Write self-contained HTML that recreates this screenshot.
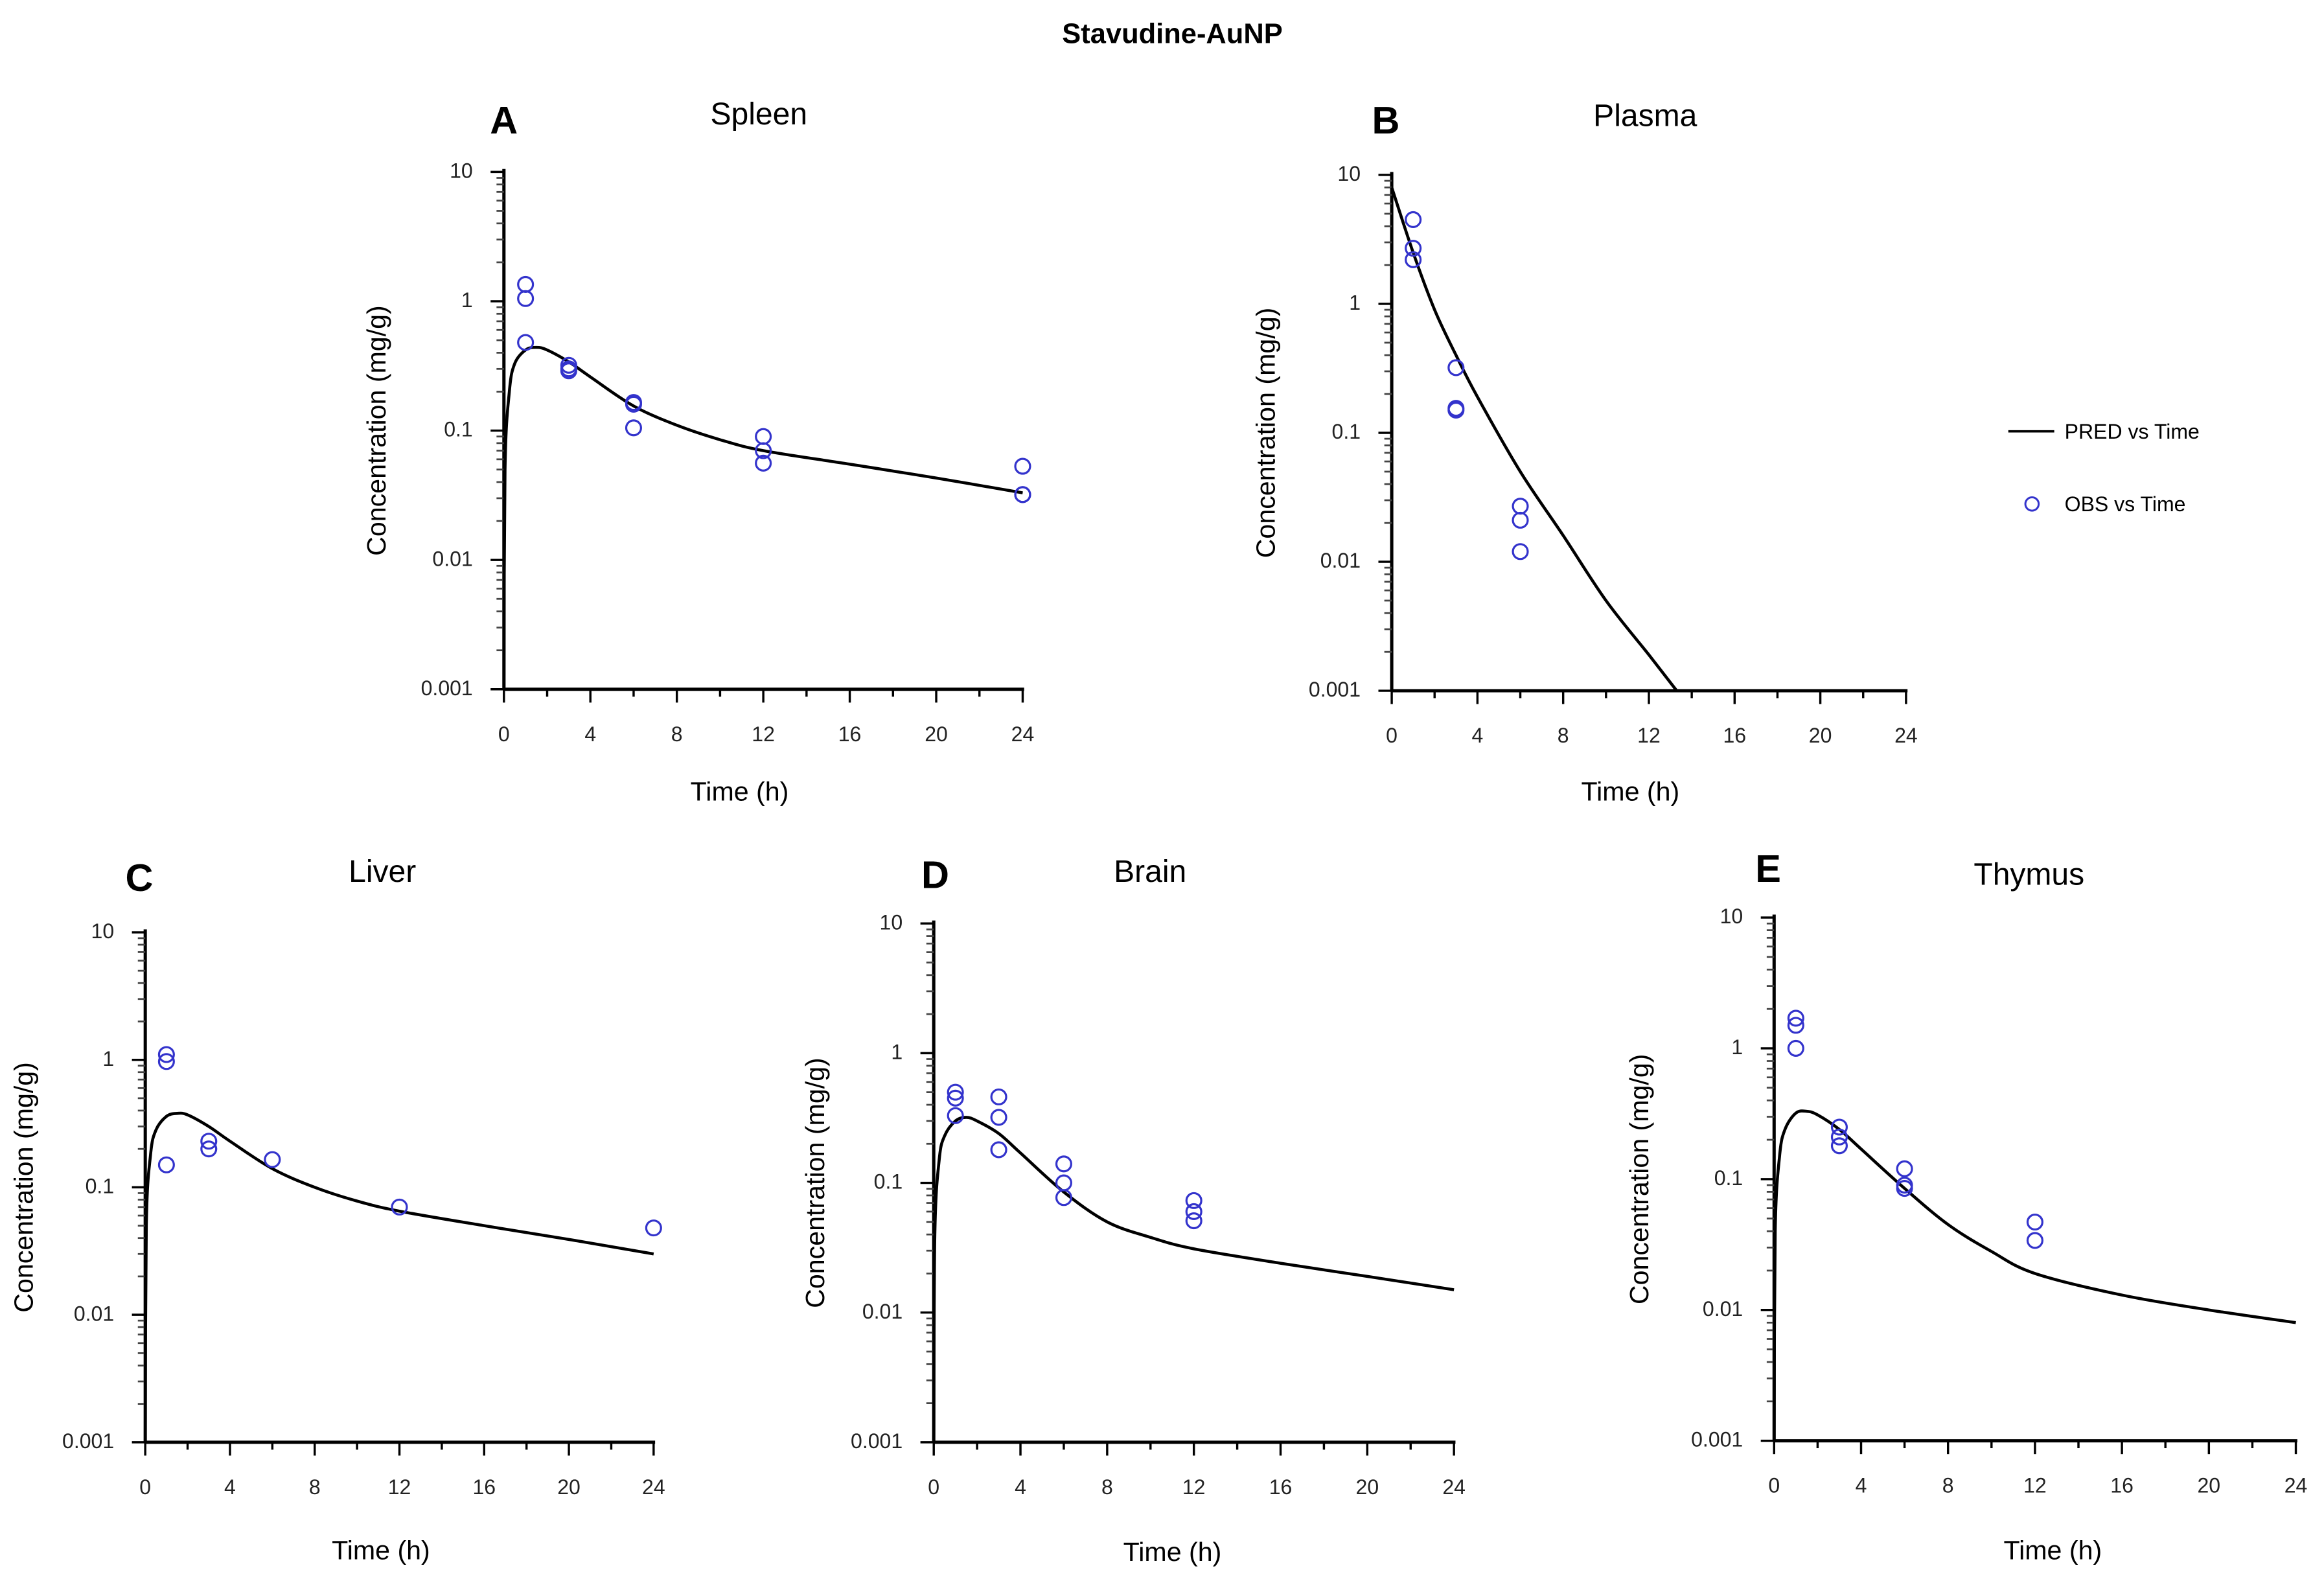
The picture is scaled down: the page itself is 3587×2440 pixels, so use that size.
<!DOCTYPE html>
<html><head><meta charset="utf-8"><style>
html,body{margin:0;padding:0;background:#fff;}
svg{display:block;font-family:"Liberation Sans",sans-serif;}
</style></head><body>
<svg id="fig" width="3587" height="2440" viewBox="0 0 1568 1066.6" preserveAspectRatio="none" xmlns="http://www.w3.org/2000/svg">
<text x="791" y="29" text-anchor="middle" font-size="19" font-weight="bold">Stavudine-AuNP</text>
<g>
<line x1="1355" y1="291" x2="1386" y2="291" stroke="#000" stroke-width="1.6"/>
<text x="1393" y="296" font-size="14">PRED vs Time</text>
<circle cx="1371" cy="340" r="4.5" fill="none" stroke="#3333cc" stroke-width="1.3"/>
<text x="1393" y="345" font-size="14">OBS vs Time</text>
</g>
</svg>
<script>
const spleenPredT=[0,0.05,0.25,0.5,1,1.5,2,3,4,6,8,10,12,16,20,24];
const spleenPredC=[0.001,0.05,0.2,0.33,0.42,0.44,0.42,0.34,0.26,0.155,0.11,0.085,0.07,0.055,0.043,0.033];
const spleenObsT=[1,1,1,3,3,3,6,6,6,12,12,12,24,24,24];
const spleenObsC=[1.35,1.05,0.48,0.32,0.3,0.29,0.165,0.16,0.105,0.09,0.07,0.056,0.053,0.032,0.032];
const plasmaPredT=[0,1,2,3,4,6,8,10,12,13.3];
const plasmaPredC=[8,2.5,0.9,0.4,0.19,0.05,0.016,0.005,0.0019,0.001];
const plasmaObsT=[1,1,1,3,3,3,6,6,6];
const plasmaObsC=[4.5,2.7,2.2,0.32,0.155,0.15,0.027,0.021,0.012];
const liverPredT=[0,0.05,0.25,0.5,1,1.5,2,3,4,6,8,10,12,16,20,24];
const liverPredC=[0.001,0.05,0.18,0.28,0.36,0.38,0.37,0.3,0.23,0.14,0.1,0.078,0.065,0.05,0.039,0.03];
const liverObsT=[1,1,1,3,3,6,12,24];
const liverObsC=[1.1,0.97,0.15,0.23,0.2,0.165,0.07,0.048];
const brainPredT=[0,0.05,0.25,0.5,1,1.5,2,3,4,6,8,10,12,16,20,24];
const brainPredC=[0.001,0.04,0.15,0.23,0.3,0.32,0.3,0.24,0.17,0.085,0.05,0.038,0.031,0.024,0.019,0.015];
const brainObsT=[1,1,1,3,3,3,6,6,6,12,12,12];
const brainObsC=[0.5,0.45,0.33,0.46,0.32,0.18,0.14,0.1,0.077,0.073,0.06,0.051];
const thymusPredT=[0,0.05,0.25,0.5,1,1.5,2,3,4,6,8,10,12,16,20,24];
const thymusPredC=[0.001,0.04,0.15,0.24,0.32,0.33,0.31,0.24,0.17,0.085,0.045,0.028,0.019,0.013,0.01,0.008];
const thymusObsT=[1,1,1,3,3,3,6,6,6,12,12];
const thymusObsC=[1.7,1.5,1.0,0.25,0.21,0.18,0.12,0.09,0.085,0.047,0.034];
const xTicks=[0,4,8,12,16,20,24];
const yTicks=[10,1,0.1,0.01,0.001];
const yTickLabels=["10","1","0.1","0.01","0.001"];

const NS="http://www.w3.org/2000/svg";
const svg=document.getElementById('fig');
function mk(tag,attrs,parent){const e=document.createElementNS(NS,tag);for(const k in attrs)e.setAttribute(k,attrs[k]);(parent||svg).appendChild(e);return e;}
function smoothPath(pts){
 let d='M'+pts[0][0].toFixed(2)+' '+pts[0][1].toFixed(2);
 for(let i=0;i<pts.length-1;i++){
  const p0=pts[Math.max(0,i-1)],p1=pts[i],p2=pts[i+1],p3=pts[Math.min(pts.length-1,i+2)];
  const c1=[p1[0]+(p2[0]-p0[0])/6,p1[1]+(p2[1]-p0[1])/6];
  const c2=[p2[0]-(p3[0]-p1[0])/6,p2[1]-(p3[1]-p1[1])/6];
  d+=' C'+c1[0].toFixed(2)+' '+c1[1].toFixed(2)+' '+c2[0].toFixed(2)+' '+c2[1].toFixed(2)+' '+p2[0].toFixed(2)+' '+p2[1].toFixed(2);
 }
 return d;
}

const panels=[
 {key:'spleen',letter:'A',title:'Spleen',ax:340,yt:116,yb:465,xr:690,lx:340,ly:90,tx:512,ty:84,ylx:260,tlx:499,tly:540,pt:spleenPredT,pc:spleenPredC,ot:spleenObsT,oc:spleenObsC},
 {key:'plasma',letter:'B',title:'Plasma',ax:939,yt:118,yb:466,xr:1286,lx:935,ly:90,tx:1110,ty:85,ylx:860,tlx:1100,tly:540,pt:plasmaPredT,pc:plasmaPredC,ot:plasmaObsT,oc:plasmaObsC},
 {key:'liver',letter:'C',title:'Liver',ax:98,yt:629,yb:973,xr:441,lx:94,ly:601,tx:258,ty:595,ylx:22,tlx:257,tly:1052,pt:liverPredT,pc:liverPredC,ot:liverObsT,oc:liverObsC},
 {key:'brain',letter:'D',title:'Brain',ax:630,yt:623,yb:973,xr:981,lx:631,ly:599,tx:776,ty:595,ylx:556,tlx:791,tly:1053,pt:brainPredT,pc:brainPredC,ot:brainObsT,oc:brainObsC},
 {key:'thymus',letter:'E',title:'Thymus',ax:1197,yt:619,yb:972,xr:1549,lx:1193,ly:595,tx:1369,ty:597,ylx:1112,tlx:1385,tly:1052,pt:thymusPredT,pc:thymusPredC,ot:thymusObsT,oc:thymusObsC}
];

panels.forEach(p=>{
 const g=mk('g',{});
 
 
 const X=t=>p.ax+(t/24)*(p.xr-p.ax);
 const Y=c=>p.yb-(Math.log10(c)+3)/4*(p.yb-p.yt);
 let e;
 e=mk('text',{x:p.lx,y:p.ly,'text-anchor':'middle','font-size':26,'font-weight':'bold'},g);e.textContent=p.letter;
 
 
 e=mk('text',{x:p.tx,y:p.ty,'text-anchor':'middle','font-size':21},g);e.textContent=p.title;
 
 
 const cy=(p.yt+p.yb)/2;
 e=mk('text',{x:p.ylx,y:cy,'text-anchor':'middle','font-size':18,transform:`rotate(-90 ${p.ylx} ${cy})`},g);e.textContent='Concentration (mg/g)';
 
 
 e=mk('text',{x:p.tlx,y:p.tly,'text-anchor':'middle','font-size':18},g);e.textContent='Time (h)';
 
 
 e=mk('line',{x1:p.ax,y1:p.yt-2,x2:p.ax,y2:p.yb,stroke:'#000','stroke-width':2.2},g);
 
 
 e=mk('line',{x1:p.ax,y1:p.yb,x2:p.xr+1,y2:p.yb,stroke:'#000','stroke-width':2.2},g);
 
 
 yTicks.forEach((v,i)=>{
  const y=Y(v);
  e=mk('line',{x1:p.ax-9,y1:y,x2:p.ax,y2:y,stroke:'#000','stroke-width':1.5},g);
  
  
  e=mk('text',{x:p.ax-21,y:y+4,'text-anchor':'end','font-size':14,fill:'#222'},g);e.textContent=yTickLabels[i];
  
  
  if(v>=0.01){for(let m=2;m<=9;m++){const yy=Y(v/10*m);
   e=mk('line',{x1:p.ax-5,y1:yy,x2:p.ax,y2:yy,stroke:'#444','stroke-width':1.2},g);
   
   }}
 });
 for(let t=0;t<=24;t+=2){
  const x=X(t),major=t%4===0;
  e=mk('line',{x1:x,y1:p.yb,x2:x,y2:p.yb+(major?9:5),stroke:'#000','stroke-width':1.5},g);
  
  
 }
 xTicks.forEach(t=>{
  e=mk('text',{x:X(t),y:p.yb+35,'text-anchor':'middle','font-size':14,fill:'#222'},g);e.textContent=String(t);
  
  
 });
 const pts=p.pt.map((t,i)=>[X(t),Y(p.pc[i])]);
 e=mk('path',{d:smoothPath(pts),fill:'none',stroke:'#000','stroke-width':2,'stroke-linejoin':'round'},g);
 
 
 p.ot.forEach((t,i)=>{
  e=mk('circle',{cx:X(t),cy:Y(p.oc[i]),r:5,fill:'none',stroke:'#3333cc','stroke-width':1.4},g);
  
  
 });
});
</script>
</body></html>
